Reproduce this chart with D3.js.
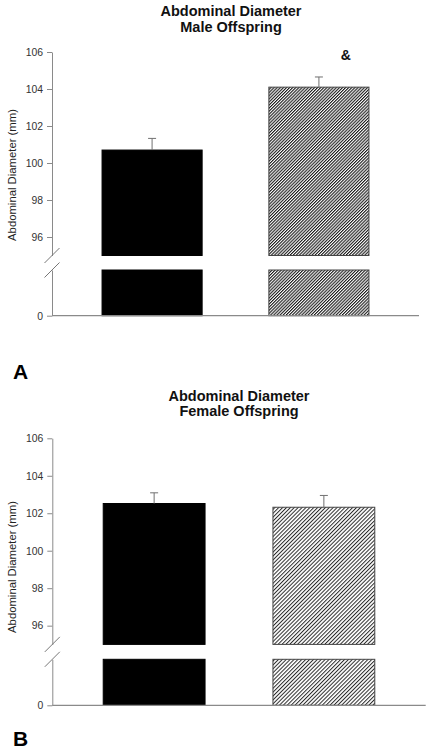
<!DOCTYPE html>
<html>
<head>
<meta charset="utf-8">
<script src="https://cdn.jsdelivr.net/npm/d3@7"></script>
<style>
  html, body { margin: 0; padding: 0; background: #fff; }
  svg { display: block; font-family: "Liberation Sans", Arial, sans-serif; }
</style>
</head>
<body>
<svg id="chart" width="431" height="751"></svg>
<script>
// ---- data ----
const groups = ["Group 1", "Group 2"];
const maleMeans = [100.7, 104.1];
const maleSE = [0.63, 0.55];
const femaleMeans = [102.52, 102.32];
const femaleSE = [0.57, 0.63];
const yTicks = [96, 98, 100, 102, 104, 106];
const lowTicks = [0];
const titleLine1 = "Abdominal Diameter";
const maleTitle2 = "Male Offspring";
const femaleTitle2 = "Female Offspring";
const yLabel = "Abdominal Diameter (mm)";
const maleMarks = ["", "&"];
const femaleMarks = ["", ""];
const panelLetters = ["A", "B"];

// ---- layout ----
const panels = [
  { means: maleMeans, se: maleSE, title2: maleTitle2, marks: maleMarks, letter: panelLetters[0],
    yTop: 52, yBreak: 255.5, lowTop: 270, yZero: 315.7, xr: [52, 419],
    titleX: 231, t1: 16, t2: 31.5, labX: 12, labY: 175, letX: 13, letY: 379,
    hatch: { id: "hatchA", gap: 2.2, w: 1.1, color: "#1a1a1a" } },
  { means: femaleMeans, se: femaleSE, title2: femaleTitle2, marks: femaleMarks, letter: panelLetters[1],
    yTop: 438.3, yBreak: 644.4, lowTop: 659.3, yZero: 705.3, xr: [52.3, 425.7],
    titleX: 239, t1: 400.5, t2: 416, labX: 12, labY: 567, letX: 13, letY: 746,
    hatch: { id: "hatchB", gap: 2.75, w: 1.0, color: "#2a2a2a" } }
];

const svg = d3.select("#chart");
const defs = svg.append("defs");
const axisColor = "#8a8a8a";

panels.forEach(p => {
  const h = p.hatch;
  const pat = defs.append("pattern")
    .attr("id", h.id).attr("patternUnits", "userSpaceOnUse")
    .attr("width", h.gap).attr("height", h.gap)
    .attr("patternTransform", "rotate(45)");
  pat.append("rect").attr("width", h.gap).attr("height", h.gap).attr("fill", "#fff");
  pat.append("rect").attr("x", 0).attr("y", 0).attr("width", h.w).attr("height", h.gap).attr("fill", h.color);

  const x = d3.scaleBand().domain(groups).range(p.xr).paddingInner(0.4).paddingOuter(0.3);
  const yU = d3.scaleLinear().domain([95, 106]).range([p.yBreak, p.yTop]);
  const yL = d3.scaleLinear().domain([0, 5]).range([p.yZero, p.lowTop]);

  const g = svg.append("g");
  const fills = ["#000", `url(#${h.id})`];
  const strokes = ["#000", "#444"];

  // upper bars
  g.selectAll(".ub").data(groups).join("rect")
    .attr("x", d => x(d)).attr("width", x.bandwidth())
    .attr("y", (d, i) => yU(p.means[i]))
    .attr("height", (d, i) => yU(95) - yU(p.means[i]))
    .attr("fill", (d, i) => fills[i]).attr("stroke", (d, i) => strokes[i]).attr("stroke-width", 1);
  // lower bars
  g.selectAll(".lb").data(groups).join("rect")
    .attr("x", d => x(d)).attr("width", x.bandwidth())
    .attr("y", yL(5)).attr("height", yL(0) - yL(5))
    .attr("fill", (d, i) => fills[i]).attr("stroke", (d, i) => strokes[i]).attr("stroke-width", 1);

  // error bars
  groups.forEach((d, i) => {
    const cx = x(d) + x.bandwidth() / 2;
    const yt = yU(p.means[i] + p.se[i]);
    g.append("line").attr("x1", cx).attr("x2", cx).attr("y1", yU(p.means[i])).attr("y2", yt)
      .attr("stroke", "#707070").attr("stroke-width", 1);
    g.append("line").attr("x1", cx - 4).attr("x2", cx + 4).attr("y1", yt).attr("y2", yt)
      .attr("stroke", "#707070").attr("stroke-width", 1);
    if (p.marks[i]) {
      g.append("text").attr("x", cx + 27).attr("y", yU(106) + 7.5)
        .attr("text-anchor", "middle").attr("font-size", "14px").attr("font-weight", "bold")
        .attr("fill", "#111").text(p.marks[i]);
    }
  });

  // axes
  const styleAxis = sel => {
    sel.selectAll("path, line").attr("stroke", axisColor);
    sel.selectAll("text").attr("fill", "#333").attr("font-size", "10.4px")
      .attr("font-family", "'Liberation Sans', Arial, sans-serif");
  };
  g.append("g").attr("transform", `translate(${p.xr[0]},0)`)
    .call(d3.axisLeft(yU).tickValues(yTicks).tickFormat(d3.format("d")).tickSize(5).tickSizeOuter(0).tickPadding(4))
    .call(styleAxis);
  g.append("g").attr("transform", `translate(${p.xr[0]},0)`)
    .call(d3.axisLeft(yL).tickValues(lowTicks).tickFormat(d3.format("d")).tickSize(5).tickSizeOuter(0).tickPadding(4))
    .call(styleAxis);
  // x axis line
  g.append("line").attr("x1", p.xr[0]).attr("x2", p.xr[1]).attr("y1", yL(0)).attr("y2", yL(0))
    .attr("stroke", axisColor).attr("stroke-width", 1.2);

  // break marks
  [yU(95), yL(5)].forEach(yy => {
    g.append("line").attr("x1", p.xr[0] - 7.5).attr("y1", yy + 7.5)
      .attr("x2", p.xr[0] + 7.5).attr("y2", yy - 7.5)
      .attr("stroke", "#777").attr("stroke-width", 1);
  });

  // titles
  g.append("text").attr("x", p.titleX).attr("y", p.t1).attr("text-anchor", "middle")
    .attr("font-size", "14.5px").attr("font-weight", "bold").attr("fill", "#111").text(titleLine1);
  g.append("text").attr("x", p.titleX).attr("y", p.t2).attr("text-anchor", "middle")
    .attr("font-size", "14.5px").attr("font-weight", "bold").attr("fill", "#111").text(p.title2);

  // y label
  g.append("text").attr("transform", `translate(${p.labX + 4},${p.labY}) rotate(-90)`)
    .attr("text-anchor", "middle").attr("font-size", "11.3px").attr("fill", "#222").text(yLabel);

  // panel letter
  g.append("text").attr("x", p.letX).attr("y", p.letY)
    .attr("font-size", "21px").attr("font-weight", "bold").attr("fill", "#000").text(p.letter);
});
</script>
</body>
</html>
